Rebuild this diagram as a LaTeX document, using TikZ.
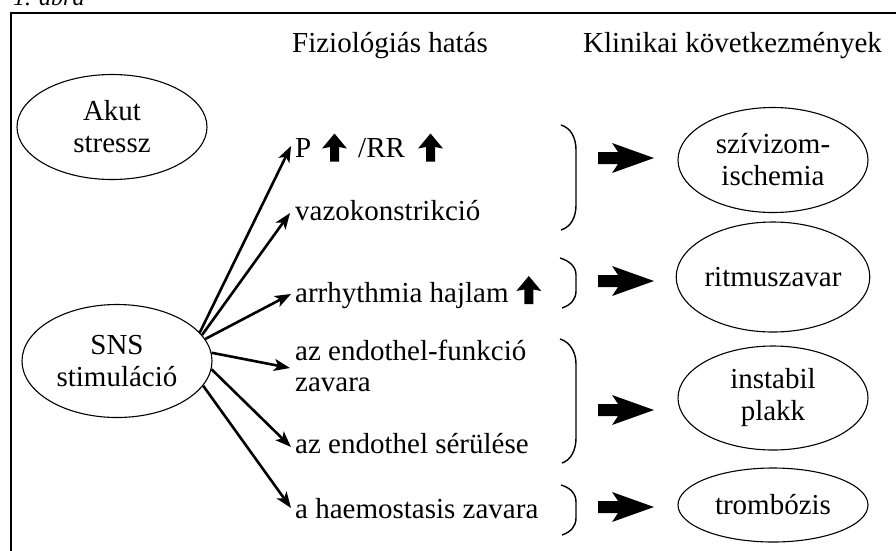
\documentclass[tikz,border=0pt]{standalone}
\usepackage{fontspec}
\setmainfont{Liberation Serif}
\usetikzlibrary{arrows.meta,shapes.geometric,calc}
\tikzset{
  uparr/.pic={\fill (0,-14) -- (12.5,1) -- (4.5,-0.5) -- (4.5,14) -- (-4.5,14) -- (-4.5,-0.5) -- (-12.5,1) -- cycle;},
  fatarr/.pic={\fill (0,-6) -- (20,-6) -- (14,-15) -- (56,0) -- (14,15) -- (20,6) -- (0,6) -- cycle;}
}
\begin{document}
\begin{tikzpicture}[x=1pt,y=-1pt,
  every node/.style={font=\fontsize{29}{32}\selectfont, inner sep=0pt, text=black},
  oval/.style={ellipse, draw, line width=1.1pt, minimum width=190pt, minimum height=105pt, align=center},
  lbl/.style={anchor=base west},
  conn/.style={line width=2.6pt, -{Stealth[length=16pt,width=12pt,inset=4pt]}},
  bracel/.style={line width=1.4pt},
  ]
\useasboundingbox (0,0) rectangle (896,550);
% frame
\draw[line width=1.4pt] (11,560) -- (11,13) -- (900,13);
\node[anchor=base west, font=\itshape\fontsize{24}{28}\selectfont] (fig) at (13,5) {1. ábra};
% headers
\node[anchor=base] (h1) at (390,52) {Fiziológiás hatás};
\node[anchor=base] (h2) at (732.5,52) {Klinikai következmények};
% left ellipses
\node[oval] (akut) at (112,127) {Akut\\stressz};
\node[oval, minimum height=113pt] (sns) at (117,361) {SNS\\stimuláció};
% right ellipses
\node[oval] (sziv) at (773,160) {szívizom-\\ischemia};
\node[oval, minimum height=110pt] (ritm) at (773,277) {ritmuszavar};
\node[oval, minimum height=104pt] (plakk) at (773,398) {instabil\\plakk};
\node[oval, minimum height=74pt] (tromb) at (773,505) {trombózis};
% middle labels
\node[lbl] (pP) at (295,157) {P};
\pic at (334.5,147.5) {uparr};
\node[lbl] (pRR) at (358,157) {/RR};
\pic at (430.5,147.5) {uparr};
\node[lbl] (vazo) at (295,220) {vazokonstrikció};
\node[lbl] (arr) at (295,302) {arrhythmia hajlam};
\pic at ($(arr.base east)+(20,-12)$) {uparr};
\node[lbl] (endf) at (295,360) {az endothel-funkció};
\node[lbl] (endf2) at (295,391) {zavara};
\node[lbl] (ends) at (295,453) {az endothel sérülése};
\node[lbl] (haem) at (295,518) {a haemostasis zavara};
% arrow tips
\coordinate (tP) at (291,146);
\coordinate (tV) at (290,213);
\coordinate (tA) at (291,294);
\coordinate (tF) at (290,368);
\coordinate (tS) at (291,447);
\coordinate (tH) at (291,508);
\draw[conn] (sns.19) -- (tP);
\draw[conn] (sns.17) -- (tV);
\draw[conn] (sns.14) -- (tA);
\draw[conn] (sns.5) -- (tF);
\draw[conn] (sns.-5) -- (tS);
\draw[conn] (sns.-16) -- (tH);
% braces
\draw[bracel] (561,125) .. controls (571,128) and (576,138) .. (576,150) -- (576,205) .. controls (576,217) and (571,227) .. (561,230);
\draw[bracel] (560,258) .. controls (570,261) and (576,267) .. (576,275) -- (576,291) .. controls (576,299) and (571,305) .. (562,308);
\draw[bracel] (560,339) .. controls (570,342) and (576,352) .. (576,364) -- (576,438) .. controls (576,450) and (571,460) .. (562,463);
\draw[bracel] (561,485) .. controls (571,488) and (576,494) .. (576,502) -- (576,518) .. controls (576,526) and (571,532) .. (562,535);
% fat arrows
\pic at (598,158) {fatarr};
\pic at (598,281) {fatarr};
\pic at (598,410) {fatarr};
\pic at (598,507) {fatarr};
\end{tikzpicture}
\end{document}
